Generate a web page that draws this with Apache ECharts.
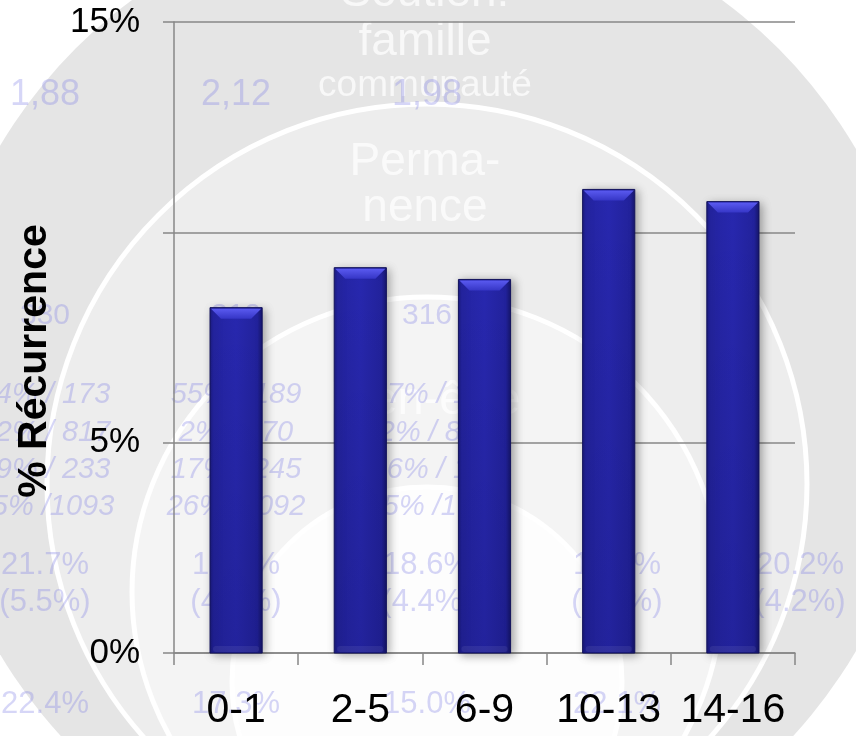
<!DOCTYPE html>
<html>
<head>
<meta charset="utf-8">
<style>
html,body{margin:0;padding:0;background:#fff;}
#chart{width:856px;height:736px;}
</style>
<script src="https://cdn.jsdelivr.net/npm/echarts/dist/echarts.min.js"></script>
</head>
<body>
<div id="chart"></div>
<script>
// ---- Data ----
const categories = ['0-1', '2-5', '6-9', '10-13', '14-16'];
const recurrence = [8.21, 9.16, 8.88, 11.02, 10.73];
const yTickValues = [0, 5, 10, 15];
const yTickLabels = ['0%', '5%', '', '15%'];
const yTitle = '% Récurrence';

// Decorative background texts (faded diagram behind the chart)
const ringLabels = ['Soutien:', 'famille', 'communauté', 'Perma-', 'nence', 'Bien-être'];
const ratioRow = ['1,88', '2,12', '1,98'];
const countRow = ['330', '312', '316'];
const shareRows = [
  ['44% / 173', '55% / 189', '57% / 176'],
  ['22% / 817', '2% / 870', '2% / 845'],
  ['19% / 233', '17% / 245', '16% / 192'],
  ['15% /1093', '26% /1092', '25% /1088']
];
const pctRow = ['21.7%', '19.3%', '18.6%', '19.4%', '20.2%'];
const pctParenRow = ['(5.5%)', '(4.5%)', '(4.4%)', '(4.6%)', '(4.2%)'];
const pctBottomRow = ['22.4%', '17.3%', '15.0%', '22.1%'];

// ---- Layout (positions / styles) ----
const FONT = "'Liberation Sans', Arial, sans-serif";
const colX = [45, 236, 427, 617, 800];
const faint = 'rgba(120,120,230,0.30)';
const whiteTxt = 'rgba(255,255,255,0.72)';

function txt(text, x, y, size, color, opts) {
  opts = opts || {};
  return {
    type: 'text', x: x, y: y, z: opts.z != null ? opts.z : -4, silent: true,
    rotation: opts.rotation || 0,
    style: {
      text: text, fill: color,
      font: (opts.italic ? 'italic ' : '') + (opts.bold ? 'bold ' : '') + size + 'px ' + FONT,
      textAlign: 'center', align: 'center',
      textVerticalAlign: 'middle', verticalAlign: 'middle'
    }
  };
}

const graphics = [];
// concentric (stacked) circles
graphics.push({type: 'circle', z: -10, silent: true, shape: {cx: 427, cy: 400, r: 497}, style: {fill: '#e5e5e5'}});
graphics.push({type: 'circle', z: -9, silent: true, shape: {cx: 427, cy: 484, r: 380}, style: {fill: '#ededed', stroke: '#ffffff', lineWidth: 5}});
graphics.push({type: 'circle', z: -8, silent: true, shape: {cx: 427, cy: 592, r: 295}, style: {fill: '#f4f4f4', stroke: '#ffffff', lineWidth: 5}});
graphics.push({type: 'circle', z: -7, silent: true, shape: {cx: 427, cy: 682, r: 195}, style: {fill: '#fdfdfd', stroke: '#ffffff', lineWidth: 5}});

// white ring labels
const ringY = [-7, 42, 86, 162, 208, 401];
const ringSize = [46, 46, 37, 46, 46, 47];
ringLabels.forEach((t, i) => graphics.push(txt(t, 425, ringY[i], ringSize[i], whiteTxt, {z: -5})));

// faint lavender numbers
ratioRow.forEach((t, i) => graphics.push(txt(t, colX[i], 95, 36, faint)));
countRow.forEach((t, i) => graphics.push(txt(t, colX[i], 316, 30, faint)));
const shareY = [395, 433, 470, 507];
const shareX = [45, 236, 436];
shareRows.forEach((row, r) => row.forEach((t, i) => graphics.push(txt(t, shareX[i], shareY[r], 29, faint, {italic: true}))));
pctRow.forEach((t, i) => graphics.push(txt(t, colX[i], 565, 31, faint)));
pctParenRow.forEach((t, i) => graphics.push(txt(t, colX[i], 602, 31, faint)));
pctBottomRow.forEach((t, i) => graphics.push(txt(t, colX[i], 704, 31, faint)));

// y axis title
graphics.push(txt(yTitle, 35, 361, 41, '#000000', {bold: true, rotation: Math.PI / 2, z: 20}));

const chart = echarts.init(document.getElementById('chart'), null, {renderer: 'canvas'});

const axisGray = '#878787';

const option = {
  animation: false,
  backgroundColor: '#ffffff',
  graphic: {elements: graphics},
  grid: {left: 174, right: 61, top: 22, bottom: 83, containLabel: false},
  xAxis: {
    type: 'category', data: categories, z: 3,
    axisLine: {show: true, lineStyle: {color: axisGray, width: 1.5}},
    axisTick: {show: true, length: 12, alignWithLabel: false, lineStyle: {color: axisGray, width: 1.5}},
    axisLabel: {color: '#000', fontSize: 41, fontFamily: FONT, margin: 37, interval: 0},
    splitLine: {show: false}
  },
  yAxis: {
    type: 'value', min: 0, max: 15, interval: 5, z: 3,
    axisLine: {show: true, lineStyle: {color: axisGray, width: 1.5}},
    axisTick: {show: true, length: 11, lineStyle: {color: axisGray, width: 1.5}},
    axisLabel: {
      color: '#000', fontSize: 35, fontFamily: FONT, margin: 34,
      formatter: function (v) { const k = yTickValues.indexOf(v); return k >= 0 ? yTickLabels[k] : ''; }
    },
    splitLine: {show: true, lineStyle: {color: axisGray, width: 1.5}}
  },
  series: [{
    type: 'custom', z: 5,
    encode: {x: 0, y: 1},
    data: categories.map((c, i) => [i, recurrence[i]]),
    renderItem: function (params, api) {
      const base = api.coord([api.value(0), 0]);
      const top = api.coord([api.value(0), api.value(1)]);
      const bw = api.size([1, 0])[0] * 0.42;
      const x0 = base[0] - bw / 2;
      const y0 = top[1];
      const h = base[1] - top[1];
      const bev = 10;
      return {
        type: 'group',
        children: [
          {
            type: 'rect', shape: {x: x0, y: y0, width: bw, height: h},
            style: {
              fill: new echarts.graphic.LinearGradient(0, 0, 1, 0, [
                {offset: 0, color: '#1a1a7c'},
                {offset: 0.07, color: '#2424a2'},
                {offset: 0.5, color: '#2727ae'},
                {offset: 0.9, color: '#22229c'},
                {offset: 1, color: '#15156a'}
              ]),
              stroke: '#12125c', lineWidth: 1,
              shadowBlur: 9, shadowOffsetX: 3, shadowOffsetY: 2, shadowColor: 'rgba(0,0,0,0.35)'
            }
          },
          {
            type: 'rect', shape: {x: x0 + 0.5, y: y0 + 0.5, width: bw - 1, height: h - 1},
            style: {
              fill: new echarts.graphic.LinearGradient(0, 0, 0, 1, [
                {offset: 0, color: 'rgba(0,0,0,0)'},
                {offset: 1, color: 'rgba(0,0,30,0.12)'}
              ])
            }
          },
          {
            type: 'polygon',
            shape: {points: [[x0 + 1, y0 + 1], [x0 + bw - 1, y0 + 1], [x0 + bw - 1 - bev, y0 + 1 + bev], [x0 + 1 + bev, y0 + 1 + bev]]},
            style: {
              fill: new echarts.graphic.LinearGradient(0, 0, 0, 1, [
                {offset: 0, color: '#5a5af0'},
                {offset: 1, color: '#3636c6'}
              ])
            }
          },
          {
            type: 'rect', shape: {x: x0 + 3, y: base[1] - 7, width: bw - 6, height: 6, r: 3},
            style: {fill: 'rgba(255,255,255,0.07)'}
          }
        ]
      };
    }
  }]
};

chart.setOption(option);
</script>
</body>
</html>
